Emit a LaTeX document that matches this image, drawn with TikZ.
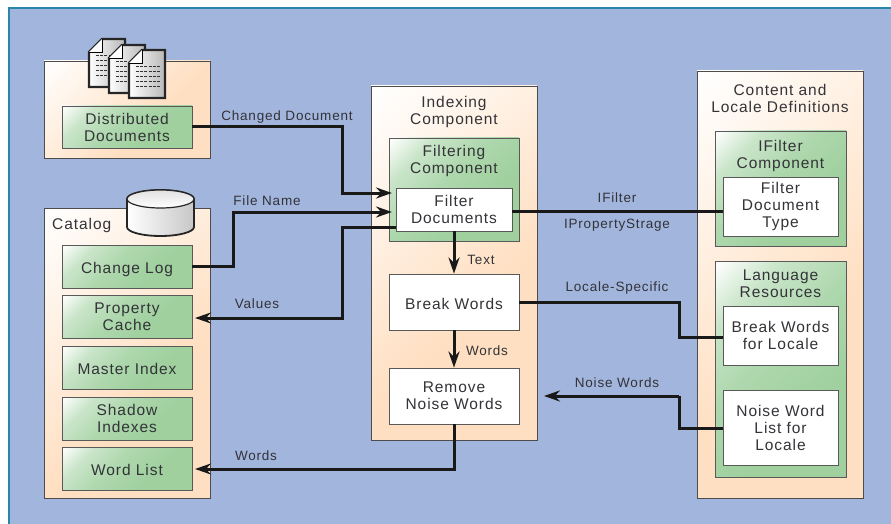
\documentclass[tikz,border=0pt]{standalone}
\usepackage{fontspec}
\setmainfont[LetterSpace=6]{Liberation Sans}
\usetikzlibrary{arrows.meta,shapes.geometric}
\definecolor{panelblue}{HTML}{A2B5DD}
\definecolor{frameteal}{HTML}{2A86A8}
\definecolor{peach}{HTML}{FFDFC1}
\definecolor{leaf}{HTML}{9FD09E}
\definecolor{inkgrey}{HTML}{333338}
\pgfdeclareverticalshading{peachsheen}{100bp}{color(0bp)=(peach); color(40bp)=(peach); color(85bp)=(white); color(100bp)=(white)}
\pgfdeclareverticalshading{leafsheen}{100bp}{color(0bp)=(leaf); color(35bp)=(leaf); color(55bp)=(leaf!85!white); color(72bp)=(leaf!55!white); color(85bp)=(white); color(100bp)=(white)}
\tikzset{
  holder/.style={draw=black!70, line width=0.8pt, shading=peachsheen, shading angle=45, inner sep=0pt},
  greenbox/.style={draw=black!65, line width=0.8pt, shading=leafsheen, shading angle=45, text=inkgrey, align=center, inner sep=0pt, font=\fontsize{15.5}{17}\selectfont},
  whitebox/.style={draw=black!65, line width=0.8pt, fill=white, text=inkgrey, align=center, inner sep=0pt, font=\fontsize{15.5}{17}\selectfont},
  heading/.style={text=inkgrey, align=center, inner sep=0pt, font=\fontsize{15.5}{17}\selectfont},
  oneline/.style={text height=14pt, text depth=0pt},
  wirelabel/.style={text=inkgrey, inner sep=0pt, font=\fontsize{13.5}{15}\selectfont},
  wire/.style={draw=black!90, line width=3pt},
  >={Stealth[length=16pt,width=11pt]},
  docsheet/.pic={
    \draw[line width=2.2pt, draw=black!85, left color=white, right color=black!28, line join=miter]
      (-18,-11) -- (-5,-24) -- (18,-24) -- (18,24) -- (-18,24) -- cycle;
    \draw[line width=0.8pt, fill=white] (-18,-11) -- (-5,-11) -- (-5,-24);
    \foreach \rowy in {-8,-3,...,16}
      \draw[line width=0.7pt, dash pattern=on 3pt off 1.2pt, black!80] (-11,\rowy) -- (13,\rowy);
  }
}
\begin{document}
\begin{tikzpicture}[x=1pt, y=-1pt]
  \useasboundingbox (0,0) rectangle (891,524);
  % Background panel
  \fill[white] (0,0) rectangle (891,524);
  \fill[panelblue] (9,8) rectangle (891,524);
  \draw[frameteal, line width=1.2pt] (9,524) -- (9,8) -- (891,8);

  % Four holders
  \node[holder, minimum width=166pt, minimum height=97pt] (docsholder) at (127,109.5) {};
  \node[holder, minimum width=166pt, minimum height=290pt] (catalog) at (127,353) {};
  \node[holder, minimum width=166pt, minimum height=354pt] (indexing) at (454,263) {};
  \node[holder, minimum width=166pt, minimum height=427pt] (content) at (780,284.5) {};

  % Documents and disk
  \pic at (107,63) {docsheet};
  \pic at (127,69) {docsheet};
  \pic at (147,74) {docsheet};
  \draw[line width=1.8pt, draw=black!85, left color=white, right color=black!22]
    (127,199) -- (127,227) arc[start angle=180, end angle=360, x radius=33.5pt, y radius=9pt]
    -- (194,199) arc[start angle=0, end angle=180, x radius=33.5pt, y radius=9pt] -- cycle;
  \draw[line width=1.2pt, draw=black!85, top color=black!12, bottom color=white]
    (160.5,199) ellipse[x radius=33.5pt, y radius=9pt];

  % Left column
  \node[greenbox, minimum width=130pt, minimum height=42pt] (distdocs) at (127,127) {Distributed\\Documents};
  \node[heading, anchor=west] (cataloglabel) at (52,225) {Catalog};
  \node[greenbox, oneline, minimum width=130pt, minimum height=43pt] (changelog) at (127,266.5) {Change Log};
  \node[greenbox, minimum width=130pt, minimum height=43pt] (propcache) at (127,316.5) {Property\\Cache};
  \node[greenbox, oneline, minimum width=130pt, minimum height=43pt] (masterindex) at (127,367.5) {Master Index};
  \node[greenbox, minimum width=130pt, minimum height=43pt] (shadowindex) at (127,418.5) {Shadow\\Indexes};
  \node[greenbox, oneline, minimum width=130pt, minimum height=43pt] (wordlist) at (127,468.5) {Word List};

  % Middle column
  \node[heading] (indexinglabel) at (454,112) {Indexing\\Component};
  \node[greenbox, minimum width=130pt, minimum height=103pt] (filtering) at (454,189.5) {};
  \node[heading] (filteringlabel) at (454,161) {Filtering\\Component};
  \node[whitebox, minimum width=116pt, minimum height=43pt] (filterdocs) at (454,209.5) {Filter\\Documents};
  \node[whitebox, oneline, minimum width=130pt, minimum height=56pt] (breakwords) at (454,302) {Break Words};
  \node[whitebox, minimum width=130pt, minimum height=56pt] (removenoise) at (454,396) {Remove\\Noise Words};

  % Right column
  \node[heading] (contentlabel) at (780,98.5) {Content and\\Locale Definitions};
  \node[greenbox, minimum width=131pt, minimum height=115pt] (ifiltercomp) at (780.5,188.5) {};
  \node[heading] (ifilterlabel) at (780.5,156) {IFilter\\Component};
  \node[whitebox, minimum width=115pt, minimum height=59pt] (filtertype) at (780.5,206.5) {Filter\\Document\\Type};
  \node[greenbox, minimum width=131pt, minimum height=216pt] (langres) at (780.5,369) {};
  \node[heading] (langlabel) at (780.5,283.5) {Language\\Resources};
  \node[whitebox, minimum width=115pt, minimum height=59pt] (breaklocale) at (780.5,335.5) {Break Words\\for Locale};
  \node[whitebox, minimum width=115pt, minimum height=75pt] (noiselocale) at (780.5,428) {Noise Word\\List for\\Locale};

  % Connector ends and bends
  \coordinate (changedin) at (392,193);
  \coordinate (changedbend) at (342,193);
  \coordinate (filein) at (392,212);
  \coordinate (filebend) at (233,212);
  \coordinate (valuesout) at (396,227);
  \coordinate (valuesbend) at (342,227);
  \coordinate (valuesin) at (195,318);
  \coordinate (filterright) at (512,211);
  \coordinate (typeleft) at (723,211);
  \coordinate (localebend) at (679,337);
  \coordinate (localeleft) at (723,337);
  \coordinate (noiseleft) at (723,428);
  \coordinate (noisebend) at (679,396);
  \coordinate (noisein) at (544,396);
  \coordinate (wordsin) at (195,469);

  % Connectors
  \draw[wire, ->] (distdocs.east) -| (changedbend) -- (changedin);
  \draw[wire, ->] (changelog.east) -| (filebend) -- (filein);
  \draw[wire, ->] (valuesout) -- (valuesbend) |- (valuesin);
  \draw[wire, ->] (filterdocs.south) -- (breakwords.north);
  \draw[wire, ->] (breakwords.south) -- (removenoise.north);
  \draw[wire, ->] (removenoise.south) |- (wordsin);
  \draw[wire] (filterright) -- (typeleft);
  \draw[wire] (breakwords.east) -| (localebend) -- (localeleft);
  \draw[wire] (noiseleft) -| (noisebend);
  \draw[wire, ->] (noisebend) -- (noisein);

  % Connector labels
  \node[wirelabel] (changedlabel) at (287,117) {Changed Document};
  \node[wirelabel] (filelabel) at (267,201) {File Name};
  \node[wirelabel] (valueslabel) at (257,304) {Values};
  \node[wirelabel] (textlabel) at (481,260) {Text};
  \node[wirelabel] (wordslabela) at (487,351) {Words};
  \node[wirelabel] (wordslabelb) at (256,456) {Words};
  \node[wirelabel] (ifilterwire) at (617,198) {IFilter};
  \node[wirelabel] (propstorage) at (617,225) {IPropertyStrage};
  \node[wirelabel] (localespecific) at (617,288) {Locale-Specific};
  \node[wirelabel] (noisewords) at (617,383) {Noise Words};
\end{tikzpicture}
\end{document}
